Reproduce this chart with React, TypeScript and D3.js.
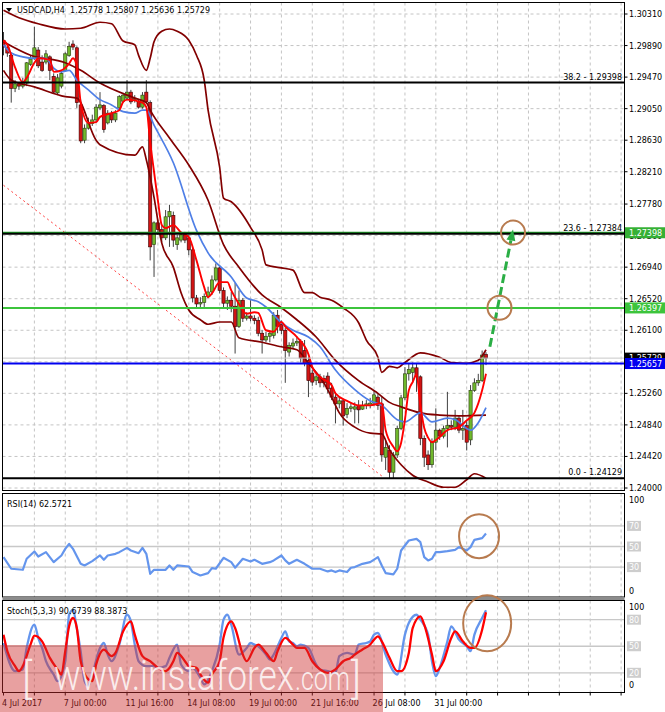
import React from 'react';
import * as d3 from 'd3';

// ---- price data (H4 candles, O H L C) ----
const candles: [number, number, number, number][] = [
  [1.2996, 1.3007, 1.2976, 1.2987], [1.2987, 1.2991, 1.2974, 1.2979], [1.2976, 1.2980, 1.2913, 1.2932],
  [1.2932, 1.2943, 1.2927, 1.2938], [1.2938, 1.2940, 1.2930, 1.2935], [1.2935, 1.2946, 1.2932, 1.2940],
  [1.2939, 1.2967, 1.2935, 1.2966], [1.2964, 1.2976, 1.2962, 1.2971], [1.2972, 1.3014, 1.2970, 1.2986],
  [1.2983, 1.2987, 1.2959, 1.2962], [1.2967, 1.2976, 1.2954, 1.2956], [1.2967, 1.2983, 1.2964, 1.2978],
  [1.2974, 1.2976, 1.2943, 1.2956], [1.2948, 1.2952, 1.2925, 1.2927], [1.2926, 1.2951, 1.2923, 1.2946],
  [1.2935, 1.2956, 1.2932, 1.2952], [1.2956, 1.2980, 1.2954, 1.2978], [1.2976, 1.2994, 1.2974, 1.2988],
  [1.2991, 1.2996, 1.2983, 1.2987], [1.2986, 1.2988, 1.2906, 1.2913], [1.2910, 1.2917, 1.2859, 1.2862],
  [1.2863, 1.2884, 1.2859, 1.2879], [1.2879, 1.2893, 1.2877, 1.2885], [1.2885, 1.2897, 1.2882, 1.2890],
  [1.2890, 1.2911, 1.2887, 1.2907], [1.2906, 1.2927, 1.2903, 1.2910], [1.2909, 1.2911, 1.2873, 1.2877],
  [1.2886, 1.2903, 1.2884, 1.2899], [1.2899, 1.2902, 1.2886, 1.2890], [1.2890, 1.2903, 1.2887, 1.2899],
  [1.2906, 1.2923, 1.2903, 1.2921], [1.2915, 1.2926, 1.2913, 1.2923], [1.2919, 1.2943, 1.2917, 1.2927],
  [1.2927, 1.2930, 1.2911, 1.2914], [1.2917, 1.2923, 1.2913, 1.2919], [1.2915, 1.2918, 1.2905, 1.2907],
  [1.2907, 1.2927, 1.2905, 1.2923], [1.2927, 1.2943, 1.2911, 1.2914], [1.2913, 1.2916, 1.2703, 1.2721],
  [1.2724, 1.2755, 1.2681, 1.2753], [1.2753, 1.2757, 1.2737, 1.2744], [1.2744, 1.2750, 1.2727, 1.2733],
  [1.2733, 1.2770, 1.2730, 1.2761], [1.2761, 1.2777, 1.2721, 1.2768], [1.2763, 1.2768, 1.2721, 1.2730],
  [1.2724, 1.2737, 1.2717, 1.2733], [1.2730, 1.2741, 1.2727, 1.2737], [1.2737, 1.2741, 1.2726, 1.2730],
  [1.2733, 1.2737, 1.2710, 1.2717], [1.2717, 1.2720, 1.2647, 1.2653], [1.2653, 1.2657, 1.2639, 1.2645],
  [1.2645, 1.2654, 1.2639, 1.2647], [1.2647, 1.2659, 1.2641, 1.2655], [1.2655, 1.2668, 1.2653, 1.2661],
  [1.2661, 1.2683, 1.2657, 1.2677], [1.2677, 1.2699, 1.2675, 1.2693], [1.2693, 1.2697, 1.2659, 1.2663],
  [1.2663, 1.2667, 1.2639, 1.2646], [1.2646, 1.2655, 1.2637, 1.2650], [1.2650, 1.2661, 1.2634, 1.2642],
  [1.2642, 1.2673, 1.2579, 1.2615], [1.2615, 1.2663, 1.2613, 1.2650], [1.2650, 1.2653, 1.2621, 1.2626],
  [1.2626, 1.2634, 1.2623, 1.2629], [1.2629, 1.2650, 1.2622, 1.2626], [1.2626, 1.2630, 1.2618, 1.2623],
  [1.2623, 1.2628, 1.2602, 1.2606], [1.2606, 1.2610, 1.2579, 1.2597], [1.2597, 1.2608, 1.2594, 1.2602],
  [1.2602, 1.2610, 1.2594, 1.2606], [1.2603, 1.2634, 1.2599, 1.2630], [1.2630, 1.2637, 1.2606, 1.2615],
  [1.2618, 1.2623, 1.2605, 1.2610], [1.2610, 1.2613, 1.2540, 1.2583], [1.2581, 1.2594, 1.2575, 1.2590],
  [1.2589, 1.2599, 1.2585, 1.2593], [1.2593, 1.2602, 1.2589, 1.2595], [1.2595, 1.2598, 1.2567, 1.2573],
  [1.2583, 1.2597, 1.2562, 1.2566], [1.2570, 1.2574, 1.2521, 1.2543], [1.2553, 1.2557, 1.2536, 1.2541],
  [1.2543, 1.2554, 1.2537, 1.2548], [1.2548, 1.2552, 1.2534, 1.2540], [1.2546, 1.2550, 1.2534, 1.2540],
  [1.2549, 1.2554, 1.2526, 1.2532], [1.2533, 1.2540, 1.2517, 1.2521], [1.2521, 1.2525, 1.2486, 1.2512],
  [1.2512, 1.2521, 1.2506, 1.2516], [1.2516, 1.2518, 1.2483, 1.2496], [1.2498, 1.2513, 1.2493, 1.2506],
  [1.2506, 1.2513, 1.2501, 1.2508], [1.2505, 1.2514, 1.2486, 1.2508], [1.2510, 1.2517, 1.2486, 1.2504],
  [1.2505, 1.2516, 1.2504, 1.2510], [1.2510, 1.2517, 1.2505, 1.2512], [1.2510, 1.2520, 1.2506, 1.2513],
  [1.2513, 1.2530, 1.2510, 1.2524], [1.2521, 1.2526, 1.2504, 1.2510], [1.2512, 1.2521, 1.2435, 1.2444],
  [1.2441, 1.2464, 1.2424, 1.2454], [1.2450, 1.2457, 1.2413, 1.2421], [1.2421, 1.2448, 1.2413, 1.2444],
  [1.2444, 1.2483, 1.2440, 1.2479], [1.2479, 1.2524, 1.2477, 1.2520], [1.2520, 1.2561, 1.2517, 1.2552],
  [1.2552, 1.2565, 1.2543, 1.2558], [1.2554, 1.2567, 1.2540, 1.2560], [1.2560, 1.2565, 1.2528, 1.2548],
  [1.2548, 1.2550, 1.2457, 1.2466], [1.2466, 1.2470, 1.2428, 1.2441], [1.2444, 1.2450, 1.2424, 1.2431],
  [1.2431, 1.2466, 1.2427, 1.2461], [1.2461, 1.2506, 1.2450, 1.2477], [1.2477, 1.2479, 1.2464, 1.2469],
  [1.2469, 1.2483, 1.2466, 1.2479], [1.2479, 1.2528, 1.2454, 1.2483], [1.2483, 1.2490, 1.2477, 1.2481],
  [1.2481, 1.2504, 1.2477, 1.2493], [1.2493, 1.2497, 1.2473, 1.2477], [1.2477, 1.2504, 1.2464, 1.2479],
  [1.2483, 1.2490, 1.2450, 1.2461], [1.2464, 1.2537, 1.2457, 1.2530], [1.2530, 1.2546, 1.2528, 1.2540],
  [1.2540, 1.2552, 1.2536, 1.2543], [1.2543, 1.2583, 1.2541, 1.2577], [1.25778, 1.25807, 1.25636, 1.25729],
];

// ---- indicator lines, [bar, value] ----
const bandUpper: [number, number][] = [
  [0, 1.3036], [4, 1.3026], [9, 1.3018], [16, 1.3011], [20, 1.3012], [25, 1.3020], [28, 1.3018], [31, 1.2995],
  [34, 1.2990], [35, 1.2976], [37, 1.2956], [38, 1.2972], [39, 1.2994], [41, 1.3008], [43, 1.3011], [45, 1.3008],
  [48, 1.2996], [50, 1.2976], [52, 1.2943], [53, 1.2903], [56, 1.2827], [57, 1.2786], [59, 1.2781], [64, 1.2747],
  [67, 1.2717], [68, 1.2697], [72, 1.2693], [75, 1.2690], [78, 1.2660], [80, 1.2660], [82, 1.2654], [85, 1.2650],
  [88, 1.2640], [92, 1.2620], [94, 1.2597], [97, 1.2574], [98, 1.2554], [100, 1.2562], [102, 1.2560],
  [104, 1.2567], [108, 1.2580], [113, 1.2574], [116, 1.2567], [120, 1.2566], [123, 1.2570], [125, 1.2584],
];
const bandMiddle: [number, number][] = [
  [0, 1.2994], [7, 1.2976], [16, 1.2966], [20, 1.2956], [25, 1.2939], [34, 1.2919], [37, 1.2913], [38, 1.2903],
  [43, 1.2866], [48, 1.2830], [53, 1.2783], [57, 1.2724], [61, 1.2694], [67, 1.2657], [72, 1.2640], [76, 1.2624],
  [81, 1.2601], [86, 1.2570], [92, 1.2543], [97, 1.2526], [100, 1.2514], [103, 1.2508], [108, 1.2500],
  [113, 1.2497], [118, 1.2496], [125, 1.2497],
];
const bandLower: [number, number][] = [
  [0, 1.2956], [2, 1.2943], [8, 1.2934], [16, 1.2921], [19, 1.2919], [24, 1.2863], [25, 1.2857], [34, 1.2843],
  [36, 1.2854], [37, 1.2837], [39, 1.2787], [41, 1.2726], [44, 1.2694], [46, 1.2660], [48, 1.2637], [51, 1.2624],
  [53, 1.2618], [56, 1.2621], [59, 1.2621], [61, 1.2600], [67, 1.2594], [72, 1.2588], [76, 1.2584], [79, 1.2566],
  [83, 1.2540], [85, 1.2521], [87, 1.2500], [91, 1.2481], [95, 1.2473], [98, 1.2472], [100, 1.2451],
  [103, 1.2431], [106, 1.2417], [110, 1.2408], [114, 1.2401], [117, 1.2401], [120, 1.2411], [122, 1.2419],
  [125, 1.2413],
];
const maSlow: [number, number][] = [
  [0, 1.2990], [2, 1.2979], [5, 1.2974], [8, 1.2972], [11, 1.2972], [13, 1.2959], [15, 1.2954], [17, 1.2956],
  [19, 1.2943], [22, 1.2930], [25, 1.2917], [28, 1.2910], [31, 1.2901], [34, 1.2899], [36, 1.2903], [37, 1.2903],
  [39, 1.2883], [44, 1.2833], [50, 1.2743], [53, 1.2713], [59, 1.2681], [63, 1.2653], [66, 1.2648], [68, 1.2641],
  [72, 1.2620], [75, 1.2610], [79, 1.2601], [82, 1.2588], [86, 1.2557], [91, 1.2531], [95, 1.2516], [98, 1.2510],
  [102, 1.2491], [104, 1.2488], [108, 1.2500], [111, 1.2488], [115, 1.2493], [117, 1.2491], [121, 1.2477],
  [123, 1.2487], [125, 1.2507],
];
const maFast: [number, number][] = [
  [0, 1.2996], [1, 1.2990], [3, 1.2960], [5, 1.2940], [6, 1.2946], [8, 1.2966], [9, 1.2972], [12, 1.2970],
  [13, 1.2954], [15, 1.2956], [17, 1.2965], [18, 1.2972], [19, 1.2962], [20, 1.2913], [22, 1.2886], [24, 1.2887],
  [25, 1.2894], [28, 1.2899], [30, 1.2903], [31, 1.2914], [32, 1.2917], [36, 1.2913], [37, 1.2907], [38, 1.2860],
  [39, 1.2821], [40, 1.2783], [41, 1.2750], [42, 1.2746], [44, 1.2750], [46, 1.2740], [48, 1.2734], [50, 1.2703],
  [52, 1.2667], [53, 1.2654], [54, 1.2659], [56, 1.2674], [58, 1.2674], [59, 1.2663], [61, 1.2645], [63, 1.2632],
  [65, 1.2634], [66, 1.2633], [68, 1.2610], [70, 1.2608], [72, 1.2621], [73, 1.2615], [76, 1.2601], [79, 1.2578],
  [80, 1.2561], [82, 1.2548], [85, 1.2537], [86, 1.2526], [89, 1.2516], [92, 1.2510], [95, 1.2510], [98, 1.2513],
  [99, 1.2477], [101, 1.2455], [102, 1.2449], [103, 1.2460], [104, 1.2491], [105, 1.2530], [106, 1.2541],
  [107, 1.2551], [108, 1.2510], [109, 1.2480], [110, 1.2467], [111, 1.2461], [113, 1.2468], [115, 1.2477],
  [118, 1.2481], [120, 1.2490], [122, 1.2500], [124, 1.2530], [125, 1.2552],
];
const rsi: [number, number][] = [
  [0, 39.7], [2, 28.4], [5, 27.4], [6, 38.1], [8, 45.2], [9, 40.3], [11, 44.5], [12, 39.7], [13, 34.8], [15, 41.3],
  [16, 47.7], [17, 52.6], [18, 47.7], [20, 33.2], [21, 31.6], [23, 35.8], [25, 41.3], [26, 37.1], [27, 41.3],
  [29, 42.9], [30, 44.5], [32, 48.7], [33, 46.1], [35, 43.5], [36, 48.7], [37, 42.9], [38, 23.5], [39, 27.4],
  [42, 27.4], [43, 31.6], [44, 27.4], [45, 31.6], [48, 30.6], [49, 25.2], [51, 21.9], [53, 24.2], [54, 29.0],
  [55, 28.4], [57, 39.0], [59, 34.8], [60, 29.4], [62, 38.1], [64, 35.5], [65, 37.1], [67, 33.2], [69, 34.8],
  [70, 36.5], [72, 41.3], [73, 36.5], [74, 33.2], [76, 37.1], [78, 33.2], [80, 28.4], [82, 28.4], [84, 25.8],
  [85, 26.8], [86, 25.2], [87, 26.8], [89, 25.2], [90, 29.4], [91, 30.0], [93, 33.2], [95, 34.8], [97, 39.7],
  [98, 31.6], [99, 24.2], [101, 22.9], [102, 28.4], [103, 46.1], [105, 55.8], [107, 57.4], [108, 54.2],
  [109, 39.7], [110, 36.5], [111, 38.1], [112, 44.5], [113, 44.5], [115, 45.5], [117, 46.8], [118, 49.4],
  [120, 46.1], [121, 49.4], [122, 56.5], [124, 58.1], [125, 62.57],
];
const stochK: [number, number][] = [
  [0, 53.7], [3, 21.9], [5, 23.8], [6, 48.1], [8, 74.4], [9, 59.4], [10, 48.1], [11, 33.1], [13, 18.1], [14, 10.6],
  [16, 33.1], [17, 85.6], [18, 91.2], [19, 70], [20, 44], [21, 10.6], [22, 5], [23, 18.1], [25, 48.1], [26, 53.7],
  [27, 40.6], [28, 33.1], [30, 51.9], [32, 85.6], [33, 78.1], [34, 52], [35, 33.1], [37, 27.5], [39, 27.5],
  [40, 25.6], [42, 27.5], [43, 36.9], [45, 51.9], [46, 29.4], [48, 21.9], [49, 25.6], [51, 14.4], [52, 6.9],
  [54, 21.9], [56, 51.9], [57, 80], [58, 85.6], [59, 74.4], [61, 40.6], [63, 48.1], [64, 53.7], [65, 51.9],
  [66, 50], [68, 40.6], [69, 35], [70, 40.6], [72, 59.4], [73, 66.9], [74, 55.6], [75, 53.7], [76, 50], [77, 51.9],
  [79, 48.1], [81, 29.4], [82, 23.8], [84, 21.9], [86, 20], [87, 38.8], [89, 42.5], [91, 40.6], [92, 51.9],
  [94, 53.7], [95, 55.6], [96, 63.1], [97, 65], [99, 40.6], [101, 21.9], [102, 18.1], [104, 63.1], [105, 76.3],
  [107, 85.6], [108, 80], [110, 63.1], [111, 33.1], [112, 16.3], [113, 25.6], [115, 55.6], [116, 72.5],
  [118, 57.5], [120, 50], [121, 44.4], [122, 63.1], [124, 81.9], [125, 90.67],
];
const stochD: [number, number][] = [
  [0, 63.1], [1, 44.4], [3, 27.5], [4, 21.9], [5, 27.5], [7, 51.9], [8, 62], [10, 55.6], [12, 36.9], [14, 23.8],
  [15, 18.1], [16, 44.4], [17, 72.5], [18, 81.9], [19, 70.6], [20, 33.1], [22, 12.5], [23, 10.6], [24, 29.4],
  [26, 46.3], [28, 38.8], [29, 42.5], [31, 66.9], [33, 78.1], [34, 63.1], [36, 38.8], [38, 33.1], [40, 25.6],
  [42, 21.9], [43, 25.6], [44, 33.1], [45, 42.5], [47, 33.1], [48, 27.5], [50, 25.6], [51, 18.1], [53, 8.8],
  [54, 18.1], [56, 33.1], [57, 60], [59, 78], [60, 70.6], [62, 40.6], [63, 33.1], [65, 48.1], [66, 51.9],
  [68, 42.5], [70, 33.1], [71, 44.4], [73, 59.4], [75, 51.9], [76, 48.1], [78, 48.1], [80, 33.1], [82, 23.8],
  [84, 20], [86, 23.8], [88, 33.1], [90, 36.9], [91, 40.6], [93, 46.3], [95, 51.9], [96, 57.5], [97, 61.2],
  [98, 55.6], [100, 36.9], [102, 21.9], [103, 21.9], [105, 42.5], [106, 70.6], [108, 83.8], [109, 74.4],
  [111, 40.6], [112, 21.9], [114, 33.1], [116, 59.4], [117, 66.9], [119, 55.6], [121, 48.1], [122, 48.1],
  [124, 68.7], [125, 88.39],
];

// ---- levels & axis labels ----
const priceTicks = [1.3031, 1.2989, 1.2947, 1.2905, 1.2863, 1.2821, 1.2778, 1.2736, 1.2694, 1.2652, 1.261, 1.2568, 1.2526, 1.2484, 1.2442, 1.24];
const fibLevels = [{ name: '38.2', price: 1.29398 }, { name: '23.6', price: 1.27384 }, { name: '0.0', price: 1.24129 }];
const timeLabels = [
  { bar: 0, text: '4 Jul 2017' }, { bar: 16, text: '7 Jul 00:00' }, { bar: 32, text: '11 Jul 16:00' },
  { bar: 48, text: '14 Jul 08:00' }, { bar: 64, text: '19 Jul 00:00' }, { bar: 80, text: '21 Jul 16:00' },
  { bar: 96, text: '26 Jul 08:00' }, { bar: 112, text: '31 Jul 00:00' },
];
const trendLine: [number, number][] = [[0, 1.2803], [98, 1.2416]];
const forecastArrow: [number, number][] = [[126, 1.2588], [132, 1.2744]];
const rsiLevels = [70, 50, 30];
const stochLevels = [80, 50, 20];

const FONT = 'DejaVu Sans, Verdana, sans-serif';
const L = 2.5, R = 624.5;
const MAIN_T = 2.5, MAIN_B = 490.5;
const RSI_T = 493.5, RSI_B = 597;
const STO_T = 600.5, STO_B = 692.5;

const x = d3.scaleLinear().domain([0, 160]).range([3.5, 621.1]);
const yP = d3.scaleLinear().domain([1.24, 1.3031]).range([488, 14]);
const yR = d3.scaleLinear().domain([0, 100]).range([598, 495]);
const yS = d3.scaleLinear().domain([0, 100]).range([690.5, 602]);

const smooth = (ys: d3.ScaleLinear<number, number>) =>
  d3.line<[number, number]>().x(d => x(d[0])).y(d => ys(d[1])).curve(d3.curveMonotoneX);
const straight = (ys: d3.ScaleLinear<number, number>) =>
  d3.line<[number, number]>().x(d => x(d[0])).y(d => ys(d[1]));

const gridBars = d3.range(8, 161, 8);

function VGrid({ top, bottom }: { top: number; bottom: number }) {
  return (
    <g>
      {gridBars.map(b => (
        <line key={b} x1={x(b)} x2={x(b)} y1={top} y2={bottom} stroke="#c4c4c4" strokeDasharray="3,3" />
      ))}
    </g>
  );
}

export default function App() {
  const priceLine = smooth(yP);
  const [a0, a1] = forecastArrow;
  const ax0 = x(a0[0]), ay0 = yP(a0[1]), ax1 = x(a1[0]), ay1 = yP(a1[1]);
  const ang = Math.atan2(ay1 - ay0, ax1 - ax0);
  const hb = 11, hw = 4.5;
  const bx = ax1 - hb * Math.cos(ang), by = ay1 - hb * Math.sin(ang);
  const head = [
    [ax1, ay1],
    [bx + hw * Math.sin(ang), by - hw * Math.cos(ang)],
    [bx - hw * Math.sin(ang), by + hw * Math.cos(ang)],
  ].map(p => p.join(',')).join(' ');

  return (
    <svg width={665} height={712} style={{ position: 'absolute', left: 0, top: 0, background: '#fff' }} fontFamily={FONT}>
      <defs>
        <clipPath id="mainClip"><rect x={L} y={MAIN_T} width={R - L} height={MAIN_B - MAIN_T} /></clipPath>
        <clipPath id="rsiClip"><rect x={L} y={RSI_T} width={R - L} height={RSI_B - RSI_T} /></clipPath>
        <clipPath id="stoClip"><rect x={L} y={STO_T} width={R - L} height={STO_B - STO_T} /></clipPath>
      </defs>
      <rect width={665} height={712} fill="#fff" />

      {/* ---------- main price panel ---------- */}
      <g clipPath="url(#mainClip)">
        {priceTicks.map(p => (
          <line key={p} x1={L} x2={R} y1={yP(p)} y2={yP(p)} stroke="#c4c4c4" strokeDasharray="3,3" />
        ))}
        <VGrid top={MAIN_T} bottom={MAIN_B} />

        <path d={straight(yP)(trendLine) || ''} stroke="#ff4040" strokeWidth={1} strokeDasharray="2,3" fill="none" />

        {candles.map(([o, h, l, c], i) => {
          const cx = x(i);
          const up = c >= o;
          const top = yP(Math.max(o, c));
          const bh = Math.max(1, Math.abs(yP(o) - yP(c)));
          return (
            <g key={i}>
              <line x1={cx} x2={cx} y1={yP(h)} y2={yP(l)} stroke="#404040" strokeWidth={1} />
              <rect x={cx - 1.6} y={top} width={3.2} height={bh} fill={up ? '#6fb82c' : '#d11414'}
                stroke={up ? '#2a3a10' : '#3a0000'} strokeWidth={0.6} />
            </g>
          );
        })}

        {[bandUpper, bandMiddle, bandLower].map((s, k) => (
          <path key={k} d={priceLine(s) || ''} stroke="#820000" strokeWidth={1.7} fill="none" />
        ))}
        <path d={priceLine(maSlow) || ''} stroke="#4f7fe6" strokeWidth={1.7} fill="none" />
        <path d={priceLine(maFast) || ''} stroke="#ff0000" strokeWidth={1.9} fill="none" />

        {/* horizontal levels */}
        <line x1={L} x2={R} y1={yP(1.25729)} y2={yP(1.25729)} stroke="#c8c8c8" strokeWidth={1} />
        <line x1={L} x2={R} y1={yP(1.27398)} y2={yP(1.27398)} stroke="#1f9a2a" strokeWidth={2} />
        <line x1={L} x2={R} y1={yP(1.26397)} y2={yP(1.26397)} stroke="#3cc43c" strokeWidth={2} />
        <line x1={L} x2={R} y1={yP(1.25657)} y2={yP(1.25657)} stroke="#0000f0" strokeWidth={2} />
        {fibLevels.map(f => (
          <g key={f.name}>
            <line x1={L} x2={R} y1={yP(f.price)} y2={yP(f.price)} stroke="#000" strokeWidth={2} />
            <text x={622} y={yP(f.price) - 3} fontSize={8} textAnchor="end" fill="#000">
              {`${f.name} - ${f.price.toFixed(5)}`}
            </text>
          </g>
        ))}

        {/* forecast annotations */}
        <line x1={ax0} y1={ay0} x2={bx} y2={by} stroke="#2aae45" strokeWidth={3} strokeDasharray="9,4" />
        <polygon points={head} fill="#2aae45" />
        <circle cx={x(132)} cy={yP(1.274)} r={12} stroke="#b87b4f" strokeWidth={2} fill="none" />
        <circle cx={x(128.5)} cy={yP(1.264)} r={12} stroke="#b87b4f" strokeWidth={2} fill="none" />
      </g>
      <rect x={L} y={MAIN_T} width={R - L} height={MAIN_B - MAIN_T} fill="none" stroke="#000" />

      {/* header */}
      <polygon points="6,8 12,8 9,12" fill="#000" />
      <text x={17} y={13} fontSize={8} fill="#000" style={{ whiteSpace: 'pre' }}>
        USDCAD,H4  1.25778 1.25807 1.25636 1.25729
      </text>

      {/* price axis */}
      {priceTicks.map(p => (
        <g key={p}>
          <line x1={R} x2={R + 3} y1={yP(p)} y2={yP(p)} stroke="#000" />
          <text x={629} y={yP(p) + 3} fontSize={8} fill="#000">{p.toFixed(5)}</text>
        </g>
      ))}
      {[
        { p: 1.27398, fill: '#35b035' },
        { p: 1.26397, fill: '#3cc43c' },
        { p: 1.25729, fill: '#000000' },
        { p: 1.25657, fill: '#0000f0' },
      ].map(b => (
        <g key={b.p}>
          <rect x={625} y={yP(b.p) - 5.5} width={40} height={11} fill={b.fill} />
          <text x={629} y={yP(b.p) + 3} fontSize={8} fill="#fff">{b.p.toFixed(5)}</text>
        </g>
      ))}

      {/* ---------- RSI panel ---------- */}
      <g clipPath="url(#rsiClip)">
        <VGrid top={RSI_T} bottom={RSI_B} />
        {rsiLevels.map(v => (
          <line key={v} x1={L} x2={R} y1={yR(v)} y2={yR(v)} stroke="#c8c8c8" strokeWidth={1.3} />
        ))}
        <path d={straight(yR)(rsi) || ''} stroke="#6495ed" strokeWidth={2.2} fill="none" strokeLinejoin="round" />
      </g>
      <rect x={L} y={RSI_T} width={R - L} height={RSI_B - RSI_T} fill="none" stroke="#000" />
      <text x={7} y={507} fontSize={8} fill="#000">RSI(14) 62.5721</text>
      <ellipse cx={x(123.2)} cy={yR(60)} rx={20} ry={22} stroke="#b87b4f" strokeWidth={2} fill="none" />
      <text x={629} y={503} fontSize={8} fill="#000">100</text>
      <text x={629} y={594} fontSize={8} fill="#000">0</text>
      {rsiLevels.map(v => (
        <g key={v}>
          <rect x={627} y={yR(v) - 5} width={14} height={10} fill="#cdcdcd" />
          <text x={629} y={yR(v) + 3} fontSize={8} fill="#fff">{v}</text>
        </g>
      ))}

      <rect x={L} y={597} width={R - L} height={3.5} fill="#8c8c8c" />

      {/* ---------- Stochastic panel ---------- */}
      <g clipPath="url(#stoClip)">
        <VGrid top={STO_T} bottom={STO_B} />
        {stochLevels.map(v => (
          <line key={v} x1={L} x2={R} y1={yS(v)} y2={yS(v)} stroke="#c8c8c8" strokeWidth={1.3} />
        ))}
        <path d={smooth(yS)(stochK) || ''} stroke="#6495ed" strokeWidth={2.3} fill="none" />
        <path d={smooth(yS)(stochD) || ''} stroke="#ff0000" strokeWidth={2.3} fill="none" />
      </g>
      <rect x={L} y={STO_T} width={R - L} height={STO_B - STO_T} fill="none" stroke="#000" />
      <text x={7} y={614} fontSize={8} fill="#000">Stoch(5,3,3) 90.6739 88.3873</text>
      <ellipse cx={x(125.3)} cy={yS(76)} rx={24} ry={28} stroke="#b87b4f" strokeWidth={2} fill="none" />
      <text x={629} y={610} fontSize={8} fill="#000">100</text>
      <text x={629} y={688} fontSize={8} fill="#000">0</text>
      {stochLevels.map(v => (
        <g key={v}>
          <rect x={627} y={yS(v) - 5} width={14} height={10} fill="#cdcdcd" />
          <text x={629} y={yS(v) + 3} fontSize={8} fill="#fff">{v}</text>
        </g>
      ))}

      {/* time axis */}
      {gridBars.concat([0]).map(b => (
        <line key={b} x1={x(b)} x2={x(b)} y1={STO_B} y2={STO_B + 3} stroke="#000" />
      ))}
      {timeLabels.map(t => (
        <text key={t.bar} x={x(t.bar) - 1.5} y={706} fontSize={8} fill="#000">{t.text}</text>
      ))}

      {/* watermark */}
      <rect x={0} y={645} width={383} height={67} fill="rgb(205,45,45)" opacity={0.45} />
      <g fill="#fff" opacity={0.82} fontFamily="Roboto, Lato, Liberation Sans, sans-serif" fontWeight={300}>
        <text x={22} y={693} fontSize={42}>[</text>
        <text x={54} y={690} fontSize={43} textLength={240} lengthAdjust="spacingAndGlyphs">www.instaforex</text>
        <text x={295} y={690} fontSize={33} textLength={55} lengthAdjust="spacingAndGlyphs">.com</text>
        <text x={351} y={693} fontSize={42}>]</text>
      </g>
    </svg>
  );
}
